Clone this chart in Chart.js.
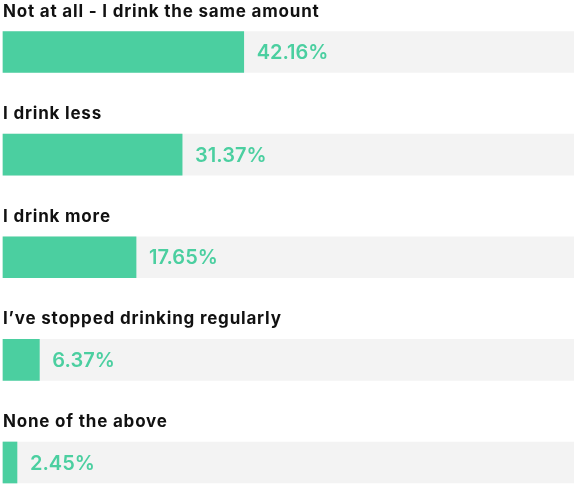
<!DOCTYPE html>
<html>
<head>
<meta charset="utf-8">
<script src="https://cdn.jsdelivr.net/npm/chart.js@4"></script>
<style>
  html, body { margin: 0; padding: 0; background: #fff; }
  #wrap { width: 574px; height: 485px; position: relative; }
</style>
</head>
<body>
<div id="wrap"><canvas id="chart"></canvas></div>
<script>
const categories = [
  'Not at all - I drink the same amount',
  'I drink less',
  'I drink more',
  'I\u2019ve stopped drinking regularly',
  'None of the above'
];
// printed percentages
const valueLabels = ['42.16%', '31.37%', '17.65%', '6.37%', '2.45%'];
// bar lengths as drawn in the picture (the third bar is drawn longer than its label)
const barLengths = [42.16, 31.37, 23.3, 6.37, 2.45];
const track = [100, 100, 100, 100, 100];

const GREEN = '#4bcfa0';
const FONT = 'Inter, "DejaVu Sans", sans-serif';

// draws the question text above each bar and the percentage after it
const labelsPlugin = {
  id: 'barLabels',
  afterDatasetsDraw(chart) {
    const ctx = chart.ctx;
    const meta = chart.getDatasetMeta(0);
    ctx.save();
    meta.data.forEach((bar, i) => {
      const top = bar.y - bar.height / 2;
      ctx.fillStyle = '#111';
      ctx.font = '650 17px ' + FONT;
      ctx.letterSpacing = '0.8px';
      ctx.textAlign = 'left';
      ctx.textBaseline = 'alphabetic';
      ctx.fillText(categories[i], chart.chartArea.left, top - 15);

      ctx.fillStyle = GREEN;
      ctx.font = '600 20px ' + FONT;
      ctx.letterSpacing = '0px';
      ctx.textBaseline = 'middle';
      ctx.fillText(valueLabels[i], bar.x + 13, bar.y + 1);
    });
    ctx.restore();
  }
};

new Chart(document.getElementById('chart'), {
  type: 'bar',
  data: {
    labels: categories,
    datasets: [
      { data: barLengths, backgroundColor: GREEN, grouped: false, barThickness: 41, clip: false },
      { data: track, backgroundColor: '#f3f3f3', grouped: false, barThickness: 41, clip: false }
    ]
  },
  options: {
    indexAxis: 'y',
    responsive: true,
    maintainAspectRatio: false,
    animation: false,
    layout: { padding: { top: 52, bottom: 22.5, left: 3, right: 0 } },
    plugins: { legend: { display: false }, tooltip: { enabled: false } },
    scales: {
      x: { display: false, min: 0, max: 100 },
      y: { display: false, offset: false }
    }
  },
  plugins: [labelsPlugin]
});
</script>
</body>
</html>
